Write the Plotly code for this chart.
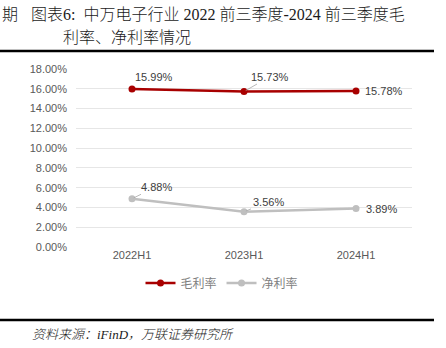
import plotly.graph_objects as go

categories = ["2022H1", "2023H1", "2024H1"]
gross_margin = [15.99, 15.73, 15.78]
net_margin = [4.88, 3.56, 3.89]
series_names = ["毛利率", "净利率"]
y_ticks = [0, 2, 4, 6, 8, 10, 12, 14, 16, 18]

W, H = 446, 348
L, R, T, B = 76, 412, 69, 247  # plot area in pixels


def px(x):
    return (x - L) / (R - L)


def py(y):
    return (B - y) / (B - T)


SERIF = "Liberation Serif, Noto Sans CJK SC, serif"
SANS = "Liberation Sans, Arial, Noto Sans CJK SC, sans-serif"
RED = "#A80000"
GRAY = "#BFBFBF"

fig = go.Figure()
fig.add_trace(go.Scatter(x=categories, y=gross_margin, mode="lines+markers",
                         name=series_names[0], line=dict(color=RED, width=2.5),
                         marker=dict(color=RED, size=7)))
fig.add_trace(go.Scatter(x=categories, y=net_margin, mode="lines+markers",
                         name=series_names[1], line=dict(color=GRAY, width=2.5),
                         marker=dict(color=GRAY, size=7)))

lab_font = dict(family=SANS, size=11, color="#404040")
# data labels: (category index, value, ax, ay, arrow)
label_specs = [
    (0, gross_margin[0], 22, -12, False),
    (1, gross_margin[1], 26, -15, True),
    (2, gross_margin[2], 28, 0, False),
    (0, net_margin[0], 24, -12, True),
    (1, net_margin[1], 24, -10, True),
    (2, net_margin[2], 25, 0, False),
]
for i, v, ax, ay, arrow in label_specs:
    fig.add_annotation(x=categories[i], y=v, xref="x", yref="y",
                       text=f"{v:.2f}%", showarrow=True, ax=ax, ay=ay,
                       arrowhead=0, arrowwidth=0.8,
                       arrowcolor="#A6A6A6" if arrow else "rgba(0,0,0,0)",
                       standoff=2, font=lab_font)

# title texts
tfont = dict(family=SERIF, size=16, color="#1A1A1A", weight=300)
fig.add_annotation(x=px(0), y=py(14), xref="paper", yref="paper", text="期",
                   showarrow=False, xanchor="left", yanchor="middle", font=tfont)
fig.add_annotation(x=px(29), y=py(14), xref="paper", yref="paper",
                   text="图表6:  中万电子行业 2022 前三季度-2024 前三季度毛",
                   showarrow=False, xanchor="left", yanchor="middle", font=tfont)
fig.add_annotation(x=px(61), y=py(38), xref="paper", yref="paper",
                   text="利率、净利率情况",
                   showarrow=False, xanchor="left", yanchor="middle", font=tfont)
fig.add_annotation(x=px(30), y=py(334), xref="paper", yref="paper",
                   text="<i>资料来源：iFinD，万联证券研究所</i>",
                   showarrow=False, xanchor="left", yanchor="middle",
                   font=dict(family=SERIF, size=13, color="#1A1A1A", weight=300))

# rules
for yy in (51, 320):
    fig.add_shape(type="line", xref="paper", yref="paper",
                  x0=px(0), x1=px(434), y0=py(yy), y1=py(yy),
                  line=dict(color="#000000", width=2.5))

fig.update_layout(
    width=W, height=H,
    margin=dict(l=L, r=W - R, t=T, b=H - B),
    paper_bgcolor="white", plot_bgcolor="white",
    showlegend=True,
    legend=dict(orientation="h", x=px(222), xanchor="center", y=py(283),
                yanchor="middle", font=dict(family=SERIF, size=12, color="#7F7F7F"),
                itemwidth=30, bgcolor="rgba(0,0,0,0)"),
    xaxis=dict(range=[-0.5, 2.5], showgrid=False, showline=False, zeroline=False,
               ticks="", tickfont=dict(family=SANS, size=11, color="#595959"),
               fixedrange=True),
    yaxis=dict(range=[0, 18.01], tickvals=y_ticks,
               ticktext=[f"{t:.2f}%" for t in y_ticks],
               showgrid=True, gridcolor="#E6E6E6", gridwidth=1, zeroline=False,
               showline=False, ticks="", ticklabelstandoff=8,
               tickfont=dict(family=SANS, size=11, color="#595959")),
)

fig.write_html("out.html")
